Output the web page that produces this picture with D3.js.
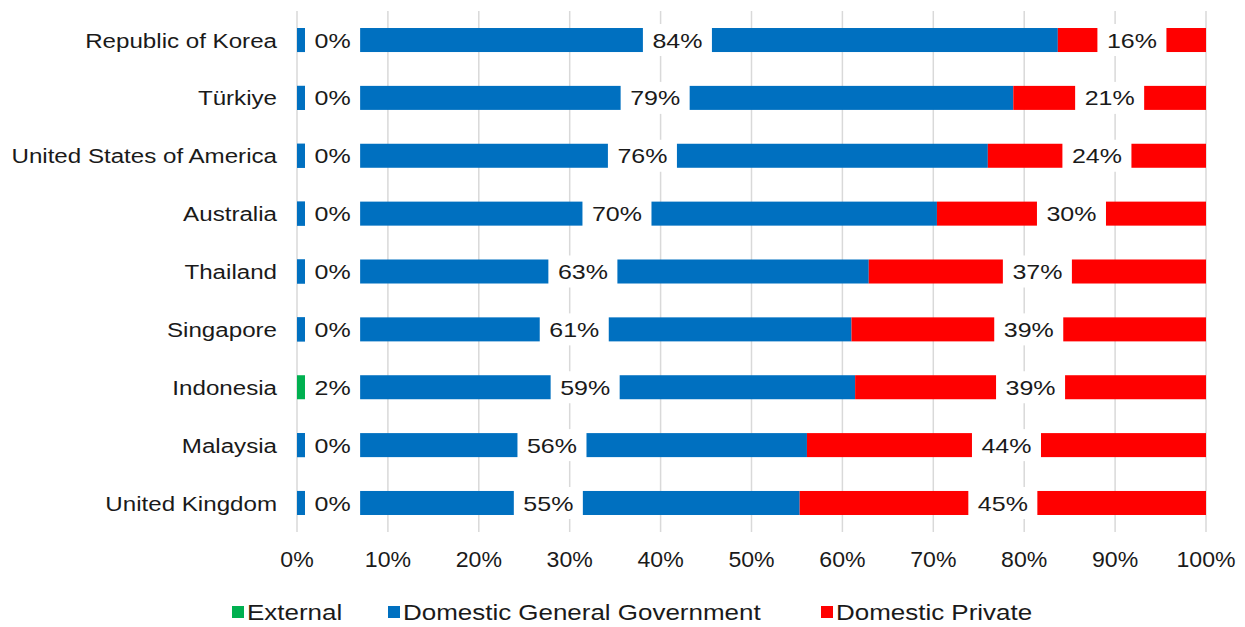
<!DOCTYPE html>
<html>
  <head>
    <meta charset="utf-8">
    <title>Financing shares</title>
    <script src="https://d3js.org/d3.v7.min.js"></script>
    <style>
      body { margin: 0; background: #fff; }
      text { font-family: "Liberation Sans", Arial, sans-serif; fill: #1a1a1a; }
    </style>
  </head>
  <body>
    <svg id="chart" width="1245" height="627"></svg>
    <script>
// data (shares in %)
var countries = ["Republic of Korea", "Türkiye", "United States of America", "Australia",
  "Thailand", "Singapore", "Indonesia", "Malaysia", "United Kingdom"];
var external = [0, 0, 0, 0, 0, 0, 2.0, 0, 0];
var domGov = [83.7, 78.8, 76.0, 70.4, 62.9, 61.0, 59.4, 56.1, 55.3];
var domPriv = [16.3, 21.2, 24.0, 29.6, 37.1, 39.0, 38.6, 43.9, 44.7];
var seriesNames = ["External", "Domestic General Government", "Domestic Private"];
var ticks = [0, 10, 20, 30, 40, 50, 60, 70, 80, 90, 100];

var colors = ["#00b050", "#0070c0", "#ff0000"];

var svg = d3.select("#chart");

var x = d3.scaleLinear().domain([0, 100]).range([297, 1206]);
var y = d3.scaleBand().domain(countries).range([11, 532])
  .paddingInner(0.585).paddingOuter(0.294);

// the source text is a bit wide, so stretch it sideways
function place(px, py, sx) {
  return "translate(" + px + "," + py + ") scale(" + sx + ",1)";
}

// table for the stack
var rows = countries.map(function(c, i) {
  return { country: c, s0: external[i], s1: domGov[i], s2: domPriv[i] };
});
var stacked = d3.stack().keys(["s0", "s1", "s2"])(rows);

// gridlines
svg.append("g").selectAll("line")
  .data(ticks)
  .join("line")
    .attr("x1", d => x(d)).attr("x2", d => x(d))
    .attr("y1", 11).attr("y2", 532)
    .attr("stroke", "#d9d9d9").attr("stroke-width", 1.5);

// bars
var layer = svg.append("g").selectAll("g")
  .data(stacked)
  .join("g")
    .attr("fill", (d, i) => colors[i]);

layer.selectAll("rect")
  .data(d => d)
  .join("rect")
    .attr("x", d => x(d[0]))
    .attr("y", d => y(d.data.country))
    .attr("width", d => Math.max(0, x(d[1]) - x(d[0])))
    .attr("height", y.bandwidth());

// the zero-width external bar still shows as a thin sliver
svg.append("g").selectAll("rect")
  .data(rows.filter(r => r.s0 === 0))
  .join("rect")
    .attr("x", x(0))
    .attr("y", d => y(d.country))
    .attr("width", 8)
    .attr("height", y.bandwidth())
    .attr("fill", colors[1]);

// data labels with white boxes
var labelG = svg.append("g");
stacked.forEach(function(s) {
  s.forEach(function(d) {
    var x0 = x(d[0]), x1 = x(d[1]);
    var val = d[1] - d[0];
    var g = labelG.append("g");
    var t = g.append("text")
      .attr("font-size", 21)
      .attr("text-anchor", "middle")
      .attr("dy", "0.36em")
      .text(Math.round(val) + "%");
    var w = t.node().getComputedTextLength() * 1.19 + 19;
    var cx = (x0 + x1) / 2;
    if (cx - w / 2 < x0 + 8 && val < 5) cx = x0 + 8 + w / 2;
    var cy = y(d.data.country) + y.bandwidth() / 2;
    g.insert("rect", "text")
      .attr("x", cx - w / 2).attr("y", cy - 16)
      .attr("width", w).attr("height", 32)
      .attr("fill", "#fff");
    t.attr("transform", place(cx, cy, 1.19));
  });
});

// category labels
svg.append("g").selectAll("text")
  .data(countries)
  .join("text")
    .attr("transform", d => place(277, y(d) + y.bandwidth() / 2, 1.15))
    .attr("dy", "0.36em")
    .attr("text-anchor", "end")
    .attr("font-size", 21)
    .text(d => d);

// x axis tick labels
svg.append("g").selectAll("text")
  .data(ticks)
  .join("text")
    .attr("transform", d => place(x(d), 567, 1.05))
    .attr("text-anchor", "middle")
    .attr("font-size", 22)
    .text(d => d + "%");

// legend
var legendX = [232, 388, 821];
var legend = svg.append("g").selectAll("g")
  .data(seriesNames)
  .join("g")
    .attr("transform", (d, i) => "translate(" + legendX[i] + ",612)");
legend.append("rect")
  .attr("x", 0).attr("y", -6).attr("width", 12).attr("height", 12)
  .attr("fill", (d, i) => colors[i]);
legend.append("text")
  .attr("transform", place(15, 0, 1.18))
  .attr("dy", "0.36em")
  .attr("font-size", 22)
  .text(d => d);
    </script>
  </body>
</html>
